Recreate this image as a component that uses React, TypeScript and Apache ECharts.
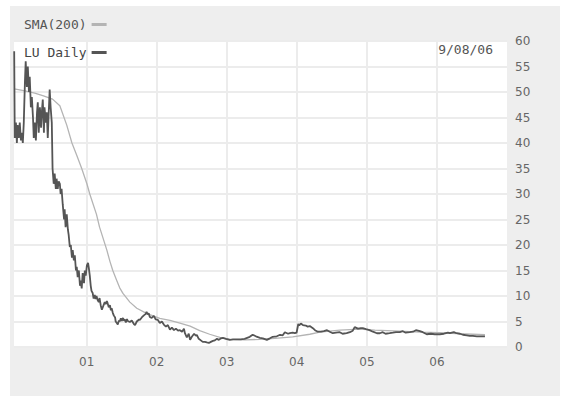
import React, { useEffect, useRef } from "react";
import * as echarts from "echarts";

const priceDates = [
  "1999-12-20","1999-12-23","1999-12-29","2000-01-03","2000-01-07","2000-01-13","2000-01-18","2000-01-24","2000-01-28","2000-02-03",
  "2000-02-08","2000-02-14","2000-02-18","2000-02-24","2000-02-29","2000-03-06","2000-03-10","2000-03-16","2000-03-21","2000-03-27",
  "2000-03-31","2000-04-05","2000-04-11","2000-04-17","2000-04-21","2000-04-26","2000-05-02","2000-05-08","2000-05-12","2000-05-17",
  "2000-05-23","2000-05-26","2000-06-02","2000-06-07","2000-06-12","2000-06-16","2000-06-22","2000-06-27","2000-07-03","2000-07-07",
  "2000-07-13","2000-07-18","2000-07-24","2000-07-28","2000-08-03","2000-08-08","2000-08-14","2000-08-18","2000-08-23","2000-08-29",
  "2000-09-05","2000-09-08","2000-09-13","2000-09-19","2000-09-25","2000-09-29","2000-10-05","2000-10-10","2000-10-16","2000-10-20",
  "2000-10-26","2000-10-31","2000-11-06","2000-11-10","2000-11-15","2000-11-21","2000-11-27","2000-12-01","2000-12-06","2000-12-11",
  "2000-12-18","2000-12-22","2000-12-27","2001-01-02","2001-01-08","2001-01-12","2001-01-17","2001-01-22","2001-01-26","2001-02-01",
  "2001-02-06","2001-02-12","2001-02-16","2001-02-21","2001-02-27","2001-03-05","2001-03-09","2001-03-15","2001-03-21","2001-03-26",
  "2001-03-30","2001-04-05","2001-04-10","2001-04-16","2001-04-20","2001-04-26","2001-05-02","2001-05-07","2001-05-11","2001-05-17",
  "2001-05-22","2001-05-29","2001-06-01","2001-06-07","2001-06-12","2001-06-18","2001-06-22","2001-06-28","2001-07-03","2001-07-09",
  "2001-07-13","2001-07-19","2001-07-24","2001-07-30","2001-08-03","2001-08-14","2001-08-24","2001-09-04","2001-09-10","2001-09-19",
  "2001-10-01","2001-10-05","2001-10-15","2001-10-26","2001-11-05","2001-11-09","2001-11-15","2001-11-20","2001-11-26","2001-12-06",
  "2001-12-17","2001-12-27","2002-01-07","2002-01-17","2002-01-28","2002-02-07","2002-02-18","2002-02-28","2002-03-11","2002-03-21",
  "2002-04-01","2002-04-11","2002-04-22","2002-05-02","2002-05-13","2002-05-23","2002-05-28","2002-06-07","2002-06-17","2002-06-24",
  "2002-07-03","2002-07-15","2002-07-24","2002-07-29","2002-08-08","2002-08-19","2002-08-29","2002-09-09","2002-09-19","2002-09-30",
  "2002-10-10","2002-10-21","2002-10-31","2002-11-11","2002-11-21","2002-12-02","2002-12-12","2002-12-28","2003-01-17","2003-02-03",
  "2003-02-24","2003-03-14","2003-04-04","2003-05-01","2003-05-16","2003-06-02","2003-06-23","2003-07-08","2003-07-29","2003-08-14",
  "2003-08-29","2003-09-19","2003-10-06","2003-10-20","2003-10-31","2003-11-17","2003-11-26","2003-12-11","2003-12-22","2003-12-31",
  "2004-01-09","2004-01-14","2004-01-22","2004-02-02","2004-02-17","2004-02-27","2004-03-09","2004-03-25","2004-04-05","2004-04-20",
  "2004-05-06","2004-05-21","2004-06-07","2004-06-21","2004-07-07","2004-07-23","2004-08-12","2004-08-27","2004-09-17","2004-10-04",
  "2004-10-19","2004-10-29","2004-11-15","2004-11-30","2004-12-10","2004-12-27","2005-01-14","2005-02-01","2005-02-22","2005-03-09",
  "2005-03-24","2005-04-08","2005-04-29","2005-05-16","2005-06-01","2005-06-21","2005-07-07","2005-07-22","2005-08-12","2005-08-29",
  "2005-09-13","2005-10-04","2005-10-19","2005-11-09","2005-11-30","2005-12-21","2006-01-16","2006-02-06","2006-02-27","2006-03-09",
  "2006-03-30","2006-04-13","2006-05-01","2006-05-16","2006-06-06","2006-06-21","2006-07-07","2006-07-28","2006-08-18","2006-09-08",
];

const priceValues = [
  58, 41, 44, 40, 43.5, 41, 44, 40.5, 42, 40,
  44, 52, 56, 51, 55, 50, 53, 47, 49, 45,
  41, 44, 40.5, 46, 48, 42, 47, 43, 46, 48.5,
  42, 47, 44, 46, 41, 45, 50.5, 47, 44, 35,
  32, 34, 31, 33, 31, 32.5, 32, 30, 31, 28,
  25, 27, 23.5, 26, 23, 22, 19.6, 20, 17.5, 19,
  17, 18, 15, 15.7, 13.7, 15, 12, 13, 11.5, 14.5,
  12.5, 15, 14, 16, 16.5, 15.5, 14, 12, 11, 10.6,
  9.5, 10.2, 9.4, 10, 9.2, 8.8, 9.6, 8.2, 7.3, 7.8,
  8.2, 8.8, 8.4, 9, 8.6, 7.8, 8.2, 7.2, 7.6, 6.7,
  6.2, 5.8, 5, 4.7, 4.4, 5.2, 5.0, 5.6, 5.1, 5.7,
  5.2, 5.4, 4.8, 5.5, 5.1, 4.9, 5.2, 4.5, 4.3, 5,
  5.4, 5.3, 5.8, 6.2, 6.5, 6.9, 6.4, 6.6, 5.9, 5.7,
  6.1, 5.4, 5.3, 4.7, 5.0, 4.4, 4.0, 4.3, 3.4, 3.8,
  3.3, 3.6, 3.2, 3.3, 3.0, 3.6, 2.7, 1.9, 2.6, 1.4,
  2.0, 2.6, 2.2, 2.4, 1.6, 1.3, 1.0, 1.0, 0.9, 0.8,
  1.0, 1.2, 1.3, 1.6, 1.4, 1.7, 1.8, 1.6, 1.4, 1.5,
  1.5, 1.5, 1.6, 2.0, 2.4, 2.1, 1.8, 1.7, 1.4, 1.7,
  2.0, 2.1, 2.4, 2.3, 2.9, 2.6, 2.7, 2.8, 2.7, 2.8,
  4.5, 4.2, 4.6, 4.3, 4.2, 4.0, 4.1, 3.7, 3.3, 3.0,
  3.0, 3.1, 3.3, 3.0, 2.7, 2.8, 2.9, 2.6, 2.7, 2.9,
  3.2, 3.9, 3.6, 3.7, 3.7, 3.5, 3.3, 3.0, 2.7, 2.7,
  2.9, 2.6, 2.7, 2.8, 2.9, 2.9, 3.1, 2.8, 2.9, 3.0,
  3.3, 3.1, 2.9, 2.5, 2.6, 2.5, 2.5, 2.6, 2.8, 2.7,
  2.9, 2.7, 2.6, 2.4, 2.3, 2.2, 2.2, 2.1, 2.1, 2.1,
];

const smaDates = [
  "1999-12-20","2000-02-14","2000-04-05","2000-05-17","2000-07-07","2000-08-14","2000-09-19","2000-10-16","2000-11-10","2000-12-06",
  "2001-01-02","2001-01-17","2001-02-21","2001-03-09","2001-03-26","2001-04-16","2001-05-02","2001-05-17","2001-06-07","2001-06-22",
  "2001-07-09","2001-08-14","2001-09-19","2001-11-09","2002-01-17","2002-03-11","2002-05-02","2002-06-24","2002-08-13","2002-10-04",
  "2002-11-26","2003-01-17","2003-04-04","2003-06-23","2003-09-09","2003-12-11","2004-03-09","2004-04-30","2004-08-12","2004-11-24",
  "2005-02-11","2005-06-21","2005-10-04","2006-01-16","2006-05-01","2006-09-08",
];

const smaValues = [
  50.6, 50.2, 49.8, 49.3, 48.6, 47.3, 43.5, 40, 37.6, 35,
  32, 30, 26, 23.5, 21.5, 19, 16.8, 15, 13, 11.6,
  10.5, 8.8, 7.6, 6.6, 5.6, 5.2, 4.7, 4.1, 3.2, 2.5,
  1.9, 1.5, 1.4, 1.5, 1.7, 2.0, 2.5, 2.9, 3.3, 3.5,
  3.3, 3.1, 2.9, 2.8, 2.6, 2.4,
];

const yearTicks = ["2001-01-01", "2002-01-01", "2003-01-01", "2004-01-01", "2005-01-01", "2006-01-01"];
const axisStart = "1999-12-19";
const axisEnd = "2007-01-01";
const yTicks = { min: 0, max: 60, interval: 5 };

const toTs = (s: string) => {
  const [y, m, d] = s.split("-").map(Number);
  return Date.UTC(y, m - 1, d);
};

const mono = "'DejaVu Sans Mono', 'Liberation Mono', monospace";
const sans = "'DejaVu Sans', Verdana, sans-serif";

export default function App() {
  const ref = useRef<HTMLDivElement>(null);
  useEffect(() => {
    if (!ref.current) return;
    const chart = echarts.init(ref.current, null, { renderer: "svg" });
    const lastDate = priceDates[priceDates.length - 1].split("-");
    const dateLabel = `${Number(lastDate[1])}/${lastDate[2]}/${lastDate[0].slice(2)}`;
    const gridColor = "#ececec";
    const yearTs = yearTicks.map(toTs);
    chart.setOption({
      animation: false,
      backgroundColor: "#ffffff",
      graphic: [
        { type: "rect", z: -100, shape: { x: 10, y: 6, width: 550, height: 390 }, style: { fill: "#eeeeee" }, silent: true },
        {
          type: "text",
          z: 100,
          right: 77,
          top: 43,
          style: { text: dateLabel, font: `13px ${mono}`, fill: "#555", textAlign: "right" },
        },
      ],
      legend: [
        {
          data: ["SMA(200)"],
          left: 24,
          top: 18,
          align: "right",
          icon: "rect",
          itemWidth: 15,
          itemHeight: 3,
          padding: 0,
          textStyle: { fontFamily: mono, fontSize: 13, color: "#555" },
          selectedMode: false,
        },
        {
          data: ["LU Daily"],
          left: 24,
          top: 46,
          align: "right",
          icon: "rect",
          itemWidth: 15,
          itemHeight: 3,
          padding: 0,
          textStyle: { fontFamily: mono, fontSize: 13, color: "#444" },
          selectedMode: false,
        },
      ],
      grid: {
        left: 14,
        right: 63,
        top: 41,
        bottom: 50,
        show: true,
        backgroundColor: "#ffffff",
        borderWidth: 0,
      },
      xAxis: {
        type: "value",
        min: toTs(axisStart),
        max: toTs(axisEnd),
        axisLine: { show: false },
        axisTick: { show: false, customValues: yearTs },
        axisLabel: {
          customValues: yearTs,
          formatter: (v: number) => String(new Date(v).getUTCFullYear()).slice(2),
          color: "#666",
          fontFamily: sans,
          fontSize: 12,
          margin: 9,
        },
        splitLine: { show: false },
      },
      yAxis: {
        type: "value",
        position: "right",
        min: yTicks.min,
        max: yTicks.max,
        interval: yTicks.interval,
        axisLine: { show: false },
        axisTick: { show: false },
        axisLabel: { color: "#666", fontFamily: sans, fontSize: 12, margin: 8 },
        splitLine: { show: true, lineStyle: { color: gridColor, width: 2 } },
      },
      series: [
        {
          name: "SMA(200)",
          type: "line",
          showSymbol: false,
          color: "#b4b4b4",
          lineStyle: { color: "#b4b4b4", width: 1.3 },
          data: smaDates.map((d, i) => [toTs(d), smaValues[i]]),
          z: 2,
          markLine: {
            silent: true,
            symbol: "none",
            label: { show: false },
            lineStyle: { color: gridColor, width: 2, type: "solid" },
            z: 1,
            data: yearTs.map((t) => ({ xAxis: t })),
          },
        },
        {
          name: "LU Daily",
          type: "line",
          showSymbol: false,
          color: "#555555",
          lineStyle: { color: "#555555", width: 1.8 },
          data: priceDates.map((d, i) => [toTs(d), priceValues[i]]),
          z: 3,
        },
      ],
    });
    return () => chart.dispose();
  }, []);
  return <div ref={ref} style={{ position: "absolute", left: 0, top: 0, width: 570, height: 397 }} />;
}
